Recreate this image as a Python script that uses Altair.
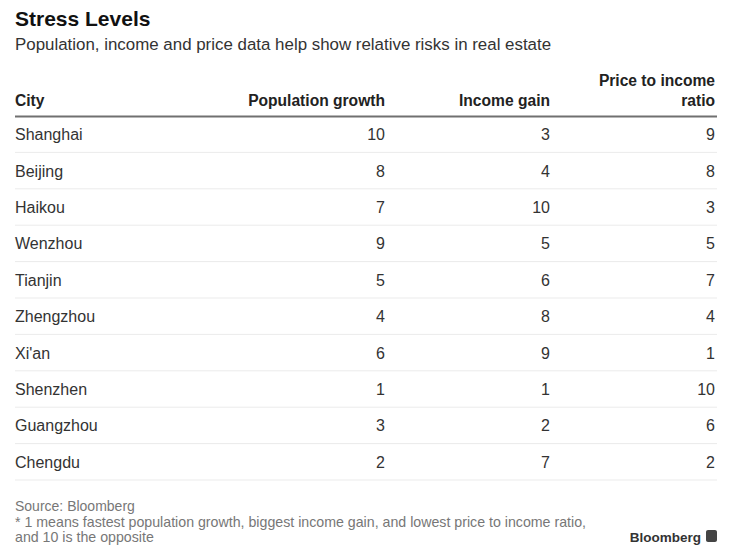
import altair as alt
import pandas as pd

cities = ["Shanghai", "Beijing", "Haikou", "Wenzhou", "Tianjin",
          "Zhengzhou", "Xi'an", "Shenzhen", "Guangzhou", "Chengdu"]
population_growth = [10, 8, 7, 9, 5, 4, 6, 1, 3, 2]
income_gain = [3, 4, 10, 5, 6, 8, 9, 1, 2, 7]
price_to_income = [9, 8, 3, 5, 7, 4, 1, 10, 6, 2]

title = "Stress Levels"
subtitle = "Population, income and price data help show relative risks in real estate"
headers = ["City", "Population growth", "Income gain", ["Price to income", "ratio"]]
source = "Source: Bloomberg"
note = ["* 1 means fastest population growth, biggest income gain, and lowest price to income ratio,",
        "and 10 is the opposite"]

df = pd.DataFrame({"city": cities, "pop": population_growth,
                   "inc": income_gain, "price": price_to_income})

FONT = "Liberation Sans"
W, H = 719, 541
L, R = 7, 709

yscale = alt.Scale(domain=cities, range=[108, 472], paddingInner=0, paddingOuter=0)
Ycity = alt.Y("city:N", scale=yscale, axis=None, bandPosition=0.5)

base = alt.Chart(df)

seps = base.mark_rule(color="#ebebeb", strokeWidth=1).encode(
    y=alt.Y("city:N", scale=yscale, axis=None, bandPosition=1),
    x=alt.value(L), x2=alt.value(R))

def col(field, xpos, align):
    return base.mark_text(font=FONT, fontSize=16, color="#333333", align=align,
                          baseline="alphabetic", dy=6).encode(
        y=Ycity, x=alt.value(xpos), text=f"{field}:N")

city_txt = col("city", L, "left")
pop_txt = col("pop", 377, "right")
inc_txt = col("inc", 542, "right")
price_txt = col("price", 707, "right")

def label(text, x, y, size, weight="normal", color="#222222", align="left"):
    return alt.Chart(pd.DataFrame({"t": [text]})).mark_text(
        font=FONT, fontSize=size, fontWeight=weight, color=color,
        align=align, baseline="alphabetic").encode(
        x=alt.value(x), y=alt.value(y), text="t:N")

def mlabel(lines, x, y, size, weight="normal", color="#222222", align="left", lh=20):
    return alt.Chart(pd.DataFrame({"a": [0]})).mark_text(
        font=FONT, fontSize=size, fontWeight=weight, color=color, align=align,
        baseline="alphabetic", lineHeight=lh).encode(
        x=alt.value(x), y=alt.value(y), text=alt.value(lines))

title_t = label(title, L, 18, 21, "bold", "#111111")
sub_t = label(subtitle, L, 42, 16.9, "normal", "#333333")
h1 = label(headers[0], L, 98, 15.6, "bold")
h2 = label(headers[1], 377, 98, 15.6, "bold", align="right")
h3 = label(headers[2], 542, 98, 15.6, "bold", align="right")
h4 = mlabel(headers[3], 707, 78, 15.6, "bold", align="right", lh=20)

header_rule = alt.Chart(pd.DataFrame({"a": [0]})).mark_rule(
    color="#707070", strokeWidth=2).encode(
    x=alt.value(L), x2=alt.value(R), y=alt.value(108.5))

src_t = label(source, L, 503, 14, "normal", "#777777")
note_t = mlabel(note, L, 519, 14.2, "normal", "#777777", lh=15)
logo_t = label("Bloomberg", 693, 534, 13.5, "bold", "#333333", align="right")
logo_box = alt.Chart(pd.DataFrame({"a": [0]})).mark_rect(
    color="#444444", cornerRadius=2).encode(
    x=alt.value(698), x2=alt.value(709), y=alt.value(522), y2=alt.value(534))

chart = alt.layer(
    seps, header_rule, city_txt, pop_txt, inc_txt, price_txt,
    title_t, sub_t, h1, h2, h3, h4, src_t, note_t, logo_t, logo_box
).properties(
    width=W, height=H, autosize=alt.AutoSizeParams(type="none"), padding=0,
    background="white"
).configure_view(stroke=None)

chart.save("out.html", embed_options={"renderer": "svg", "actions": False})
